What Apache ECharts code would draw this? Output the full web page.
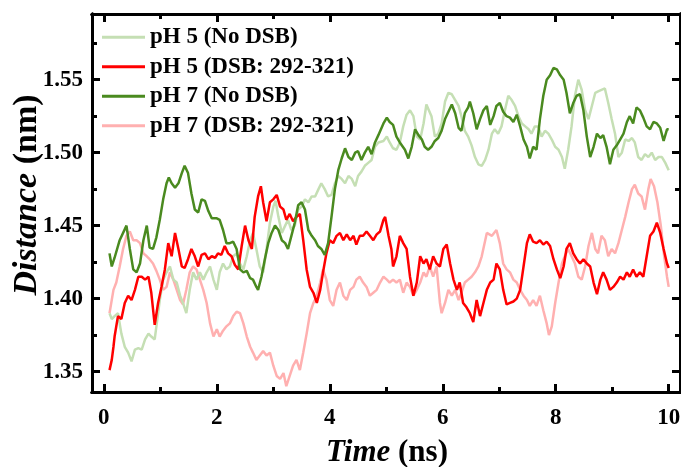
<!DOCTYPE html>
<html>
<head>
<meta charset="utf-8">
<script src="https://cdn.jsdelivr.net/npm/echarts@6/dist/echarts.min.js"></script>
<style>
  html, body { margin: 0; padding: 0; background: #fff; }
  #wrap { position: relative; width: 681px; height: 467px; }
  #chart, #ticks { position: absolute; left: 0; top: 0; width: 681px; height: 467px; }
  #ticks { pointer-events: none; }
</style>
</head>
<body>
<div id="wrap">
  <div id="chart"></div>
  <div id="ticks"></div>
</div>
<script>
// Distance vs time, [time (ns), distance (nm)]
const ph5NoDsb = [
  [0.10,1.390],[0.14,1.386],[0.19,1.388],[0.25,1.390],[0.31,1.376],[0.37,1.367],[0.43,1.363],[0.49,1.357],
  [0.55,1.365],[0.61,1.366],[0.67,1.365],[0.73,1.372],[0.79,1.376],[0.84,1.374],[0.90,1.372],[0.93,1.381],
  [0.99,1.399],[1.05,1.413],[1.11,1.418],[1.17,1.422],[1.23,1.413],[1.29,1.411],[1.35,1.402],[1.40,1.397],
  [1.46,1.390],[1.52,1.406],[1.58,1.418],[1.64,1.413],[1.70,1.418],[1.76,1.413],[1.82,1.418],[1.88,1.422],
  [1.94,1.413],[2.00,1.406],[2.05,1.418],[2.11,1.424],[2.17,1.420],[2.23,1.422],[2.29,1.429],[2.35,1.431],
  [2.41,1.424],[2.47,1.420],[2.53,1.429],[2.59,1.440],[2.64,1.445],[2.70,1.434],[2.76,1.422],[2.82,1.418],
  [2.88,1.434],[2.94,1.452],[3.00,1.463],[3.04,1.467],[3.09,1.456],[3.15,1.445],[3.21,1.450],[3.26,1.454],
  [3.32,1.447],[3.38,1.450],[3.44,1.461],[3.50,1.463],[3.56,1.468],[3.62,1.466],[3.68,1.470],[3.74,1.470],
  [3.80,1.475],[3.85,1.479],[3.91,1.475],[3.97,1.470],[4.03,1.471],[4.09,1.479],[4.15,1.484],[4.21,1.482],
  [4.27,1.479],[4.33,1.484],[4.39,1.482],[4.45,1.477],[4.50,1.484],[4.56,1.487],[4.62,1.491],[4.68,1.493],
  [4.74,1.495],[4.80,1.504],[4.86,1.507],[4.95,1.508],[5.01,1.511],[5.06,1.507],[5.12,1.503],[5.18,1.502],
  [5.24,1.507],[5.30,1.518],[5.36,1.526],[5.42,1.529],[5.48,1.525],[5.54,1.511],[5.60,1.509],[5.66,1.520],
  [5.71,1.533],[5.74,1.534],[5.80,1.525],[5.86,1.511],[5.92,1.513],[5.98,1.520],[6.04,1.535],[6.10,1.541],
  [6.16,1.540],[6.22,1.536],[6.28,1.532],[6.33,1.525],[6.39,1.515],[6.45,1.511],[6.51,1.505],[6.57,1.497],
  [6.63,1.492],[6.69,1.491],[6.75,1.495],[6.81,1.502],[6.87,1.513],[6.92,1.516],[6.98,1.513],[7.04,1.518],
  [7.10,1.529],[7.16,1.539],[7.22,1.536],[7.28,1.532],[7.34,1.525],[7.40,1.520],[7.46,1.518],[7.52,1.516],
  [7.57,1.513],[7.63,1.518],[7.69,1.518],[7.75,1.511],[7.81,1.515],[7.87,1.513],[7.93,1.509],[7.99,1.504],
  [8.05,1.502],[8.11,1.497],[8.16,1.489],[8.22,1.502],[8.28,1.518],[8.34,1.539],[8.40,1.550],[8.46,1.543],
  [8.52,1.529],[8.58,1.523],[8.64,1.532],[8.70,1.541],[8.75,1.542],[8.81,1.543],[8.87,1.544],[8.93,1.534],
  [8.99,1.523],[9.05,1.513],[9.11,1.497],[9.17,1.500],[9.23,1.509],[9.29,1.508],[9.35,1.510],[9.40,1.507],
  [9.46,1.497],[9.52,1.495],[9.58,1.499],[9.64,1.497],[9.70,1.500],[9.76,1.495],[9.82,1.497],[9.88,1.497],
  [9.94,1.493],[10.0,1.488]
];

const ph5Dsb = [
  [0.10,1.351],[0.14,1.358],[0.17,1.367],[0.19,1.374],[0.22,1.381],[0.25,1.388],[0.31,1.386],[0.37,1.397],
  [0.43,1.402],[0.49,1.399],[0.55,1.406],[0.61,1.415],[0.67,1.415],[0.73,1.413],[0.79,1.415],[0.84,1.404],
  [0.90,1.382],[0.96,1.397],[1.02,1.408],[1.08,1.420],[1.14,1.438],[1.20,1.429],[1.26,1.445],[1.32,1.434],
  [1.38,1.422],[1.43,1.421],[1.49,1.427],[1.55,1.434],[1.61,1.429],[1.67,1.422],[1.73,1.430],[1.79,1.431],
  [1.85,1.427],[1.91,1.429],[1.97,1.428],[2.02,1.431],[2.08,1.430],[2.14,1.436],[2.20,1.431],[2.26,1.429],
  [2.32,1.423],[2.38,1.420],[2.44,1.436],[2.50,1.450],[2.56,1.440],[2.62,1.434],[2.67,1.456],[2.73,1.470],
  [2.78,1.477],[2.82,1.466],[2.88,1.453],[2.94,1.466],[3.00,1.468],[3.06,1.471],[3.12,1.463],[3.18,1.461],
  [3.23,1.454],[3.29,1.458],[3.35,1.453],[3.41,1.456],[3.47,1.458],[3.53,1.440],[3.59,1.420],[3.65,1.408],
  [3.71,1.404],[3.77,1.397],[3.83,1.406],[3.88,1.418],[3.94,1.431],[4.00,1.440],[4.06,1.438],[4.12,1.443],
  [4.18,1.445],[4.24,1.440],[4.30,1.444],[4.36,1.440],[4.42,1.443],[4.47,1.437],[4.53,1.443],[4.59,1.443],
  [4.65,1.446],[4.71,1.443],[4.77,1.440],[4.83,1.444],[4.89,1.446],[4.95,1.454],[4.98,1.456],[5.04,1.443],
  [5.09,1.434],[5.12,1.422],[5.18,1.429],[5.24,1.443],[5.30,1.438],[5.36,1.434],[5.42,1.415],[5.48,1.402],
  [5.54,1.411],[5.60,1.429],[5.66,1.424],[5.71,1.427],[5.77,1.420],[5.83,1.429],[5.89,1.424],[5.95,1.422],
  [6.01,1.434],[6.07,1.437],[6.13,1.424],[6.19,1.413],[6.25,1.406],[6.30,1.411],[6.36,1.397],[6.42,1.394],
  [6.48,1.390],[6.54,1.384],[6.60,1.399],[6.66,1.388],[6.72,1.397],[6.78,1.406],[6.84,1.411],[6.90,1.413],
  [6.95,1.424],[7.01,1.420],[7.07,1.406],[7.13,1.396],[7.19,1.397],[7.25,1.398],[7.31,1.400],[7.37,1.406],
  [7.43,1.422],[7.49,1.438],[7.54,1.444],[7.60,1.439],[7.66,1.438],[7.72,1.440],[7.78,1.437],[7.84,1.439],
  [7.90,1.436],[7.96,1.427],[8.02,1.420],[8.08,1.414],[8.14,1.422],[8.19,1.434],[8.25,1.438],[8.31,1.431],
  [8.37,1.427],[8.43,1.424],[8.49,1.427],[8.55,1.424],[8.61,1.422],[8.67,1.411],[8.73,1.403],[8.79,1.413],
  [8.84,1.418],[8.90,1.413],[8.96,1.406],[9.02,1.408],[9.08,1.411],[9.14,1.415],[9.20,1.413],[9.26,1.418],
  [9.31,1.415],[9.37,1.420],[9.43,1.415],[9.49,1.418],[9.55,1.415],[9.61,1.429],[9.67,1.443],[9.73,1.446],
  [9.79,1.452],[9.85,1.445],[9.91,1.434],[9.97,1.424],[10.0,1.421]
];

const ph7NoDsb = [
  [0.10,1.431],[0.14,1.422],[0.19,1.428],[0.28,1.440],[0.40,1.450],[0.46,1.434],[0.52,1.420],[0.58,1.418],
  [0.64,1.424],[0.70,1.440],[0.76,1.450],[0.81,1.435],[0.87,1.434],[0.93,1.442],[0.99,1.454],[1.05,1.468],
  [1.11,1.479],[1.15,1.483],[1.20,1.479],[1.26,1.476],[1.32,1.479],[1.38,1.486],[1.43,1.491],[1.49,1.486],
  [1.55,1.472],[1.61,1.461],[1.67,1.459],[1.73,1.468],[1.79,1.467],[1.85,1.460],[1.91,1.455],[2.00,1.455],
  [2.05,1.454],[2.11,1.447],[2.17,1.438],[2.23,1.438],[2.29,1.439],[2.35,1.434],[2.41,1.420],[2.47,1.418],
  [2.53,1.419],[2.59,1.414],[2.64,1.413],[2.70,1.408],[2.73,1.406],[2.79,1.415],[2.85,1.427],[2.91,1.438],
  [2.97,1.445],[3.03,1.450],[3.09,1.447],[3.15,1.440],[3.21,1.438],[3.26,1.434],[3.32,1.443],[3.38,1.452],
  [3.44,1.464],[3.50,1.466],[3.56,1.461],[3.62,1.447],[3.68,1.443],[3.74,1.440],[3.79,1.436],[3.85,1.434],
  [3.91,1.430],[3.97,1.438],[4.03,1.456],[4.09,1.475],[4.15,1.488],[4.21,1.496],[4.27,1.503],[4.33,1.497],
  [4.39,1.495],[4.45,1.500],[4.50,1.501],[4.56,1.495],[4.62,1.500],[4.68,1.504],[4.74,1.499],[4.80,1.507],
  [4.86,1.512],[4.95,1.520],[5.01,1.524],[5.06,1.521],[5.12,1.519],[5.18,1.511],[5.24,1.507],[5.33,1.502],
  [5.39,1.496],[5.45,1.504],[5.51,1.516],[5.57,1.512],[5.63,1.509],[5.68,1.504],[5.74,1.502],[5.80,1.504],
  [5.86,1.508],[5.92,1.510],[5.98,1.515],[6.04,1.523],[6.10,1.528],[6.16,1.533],[6.22,1.527],[6.28,1.517],
  [6.33,1.515],[6.39,1.527],[6.45,1.531],[6.48,1.535],[6.54,1.527],[6.60,1.516],[6.66,1.523],[6.72,1.529],
  [6.78,1.532],[6.84,1.519],[6.90,1.525],[6.95,1.532],[7.01,1.534],[7.07,1.528],[7.13,1.525],[7.19,1.524],
  [7.25,1.521],[7.31,1.526],[7.37,1.518],[7.43,1.509],[7.49,1.504],[7.54,1.496],[7.60,1.504],[7.66,1.502],
  [7.72,1.523],[7.78,1.539],[7.84,1.550],[7.90,1.553],[7.96,1.558],[8.02,1.557],[8.08,1.553],[8.14,1.550],
  [8.19,1.541],[8.25,1.527],[8.31,1.534],[8.37,1.539],[8.43,1.540],[8.49,1.529],[8.55,1.511],[8.61,1.497],
  [8.67,1.504],[8.73,1.513],[8.79,1.510],[8.84,1.512],[8.90,1.504],[8.96,1.492],[9.02,1.502],[9.08,1.505],
  [9.14,1.509],[9.20,1.513],[9.26,1.521],[9.31,1.525],[9.37,1.520],[9.43,1.531],[9.49,1.529],[9.55,1.524],
  [9.61,1.518],[9.67,1.516],[9.73,1.521],[9.79,1.520],[9.85,1.517],[9.91,1.508],[9.97,1.516],[10.0,1.516]
];

const ph7Dsb = [
  [0.10,1.390],[0.17,1.406],[0.22,1.411],[0.28,1.422],[0.34,1.434],[0.40,1.443],[0.46,1.446],[0.52,1.440],
  [0.58,1.440],[0.64,1.438],[0.70,1.431],[0.76,1.429],[0.81,1.427],[0.87,1.424],[0.93,1.419],[0.99,1.413],
  [1.05,1.406],[1.11,1.408],[1.17,1.418],[1.23,1.413],[1.29,1.406],[1.35,1.399],[1.40,1.396],[1.46,1.406],
  [1.52,1.418],[1.58,1.422],[1.64,1.420],[1.70,1.413],[1.76,1.406],[1.82,1.397],[1.88,1.383],[1.94,1.374],
  [2.00,1.379],[2.05,1.374],[2.11,1.378],[2.17,1.381],[2.23,1.383],[2.29,1.388],[2.35,1.391],[2.41,1.390],
  [2.47,1.383],[2.53,1.374],[2.59,1.367],[2.64,1.363],[2.70,1.358],[2.76,1.361],[2.82,1.364],[2.88,1.361],
  [2.94,1.363],[3.00,1.354],[3.06,1.347],[3.12,1.345],[3.18,1.349],[3.23,1.340],[3.29,1.347],[3.35,1.354],
  [3.41,1.358],[3.47,1.351],[3.53,1.363],[3.59,1.376],[3.65,1.390],[3.71,1.397],[3.77,1.402],[3.83,1.411],
  [3.88,1.420],[3.94,1.413],[4.00,1.399],[4.06,1.395],[4.12,1.406],[4.18,1.411],[4.24,1.402],[4.30,1.399],
  [4.36,1.406],[4.42,1.408],[4.47,1.413],[4.53,1.415],[4.59,1.411],[4.65,1.408],[4.71,1.402],[4.77,1.404],
  [4.83,1.406],[4.89,1.411],[4.95,1.415],[5.01,1.413],[5.06,1.411],[5.12,1.413],[5.18,1.411],[5.24,1.413],
  [5.30,1.404],[5.36,1.411],[5.42,1.408],[5.48,1.402],[5.54,1.406],[5.60,1.411],[5.66,1.418],[5.71,1.415],
  [5.77,1.422],[5.83,1.415],[5.89,1.422],[5.95,1.397],[5.98,1.390],[6.04,1.397],[6.10,1.406],[6.16,1.402],
  [6.22,1.406],[6.28,1.399],[6.33,1.404],[6.39,1.411],[6.45,1.413],[6.51,1.415],[6.57,1.418],[6.63,1.422],
  [6.69,1.429],[6.78,1.445],[6.87,1.443],[6.95,1.447],[7.01,1.438],[7.07,1.424],[7.13,1.420],[7.19,1.418],
  [7.25,1.413],[7.31,1.411],[7.37,1.406],[7.43,1.402],[7.49,1.399],[7.54,1.395],[7.60,1.399],[7.66,1.395],
  [7.72,1.402],[7.78,1.392],[7.84,1.383],[7.88,1.375],[7.93,1.381],[7.99,1.397],[8.05,1.411],[8.11,1.424],
  [8.16,1.429],[8.22,1.434],[8.28,1.429],[8.34,1.424],[8.40,1.415],[8.46,1.413],[8.52,1.422],[8.58,1.436],
  [8.64,1.445],[8.70,1.434],[8.75,1.431],[8.81,1.443],[8.87,1.440],[8.93,1.429],[8.99,1.434],[9.05,1.431],
  [9.11,1.438],[9.17,1.447],[9.23,1.456],[9.29,1.466],[9.35,1.475],[9.40,1.478],[9.46,1.472],[9.52,1.470],
  [9.58,1.461],[9.64,1.475],[9.68,1.482],[9.74,1.477],[9.80,1.466],[9.86,1.450],[9.92,1.429],[9.97,1.415],
  [10.0,1.408]
];

// Axis ranges and tick positions
const xRange = [-0.21, 10.2];
const yRange = [1.336, 1.595];
const xMajorTicks = [0, 2, 4, 6, 8, 10];
const xMinorTicks = [1, 3, 5, 7, 9];
const yMajorTicks = [1.35, 1.40, 1.45, 1.50, 1.55];
const yMinorTicks = [1.375, 1.425, 1.475, 1.525, 1.575];

const seriesNames = ['pH 5 (No DSB)', 'pH 5 (DSB: 292-321)', 'pH 7 (No DSB)', 'pH 7 (DSB: 292-321)'];
const seriesColors = ['#c5dfb4', '#ff0000', '#4a8a1f', '#ffb0b0'];
const seriesData = [ph5NoDsb, ph5Dsb, ph7NoDsb, ph7Dsb];
const drawOrder = [3, 0, 1, 2];

const FONT = '"Liberation Serif", "Times New Roman", serif';
const GRID = { left: 92, right: 1, top: 14, bottom: 75, outerBoundsMode: 'none' };

// Axis titles: italic quantity followed by the upright unit
const xTitle = ['Time', '(ns)'];
const yTitle = ['Distance', '(nm)'];
const X_TITLE_SIZE = 31;
const Y_TITLE_SIZE = 34;

const measureCtx = document.createElement('canvas').getContext('2d');
function textWidth(text, size, italic) {
  measureCtx.font = (italic ? 'italic ' : '') + 'bold ' + size + 'px ' + FONT;
  return measureCtx.measureText(text).width;
}

function titleGroup(parts, size, cx, cy, vertical) {
  const w0 = textWidth(parts[0], size, true);
  const gap = textWidth(' ', size, false);
  const w1 = textWidth(parts[1], size, false);
  const total = w0 + gap + w1;
  const base = { fontFamily: FONT, fontWeight: 'bold', fontSize: size, fill: '#000', align: 'left', verticalAlign: 'middle' };
  return {
    type: 'group',
    x: vertical ? cx : cx - total / 2,
    y: vertical ? cy + total / 2 : cy,
    rotation: vertical ? Math.PI / 2 : 0,
    silent: true,
    children: [
      { type: 'text', x: 0, y: 0, style: Object.assign({ text: parts[0], fontStyle: 'italic' }, base) },
      { type: 'text', x: w0 + gap, y: 0, style: Object.assign({ text: parts[1], fontStyle: 'normal' }, base) }
    ]
  };
}

// Value axis spanning the frame; ticks point inward
function axisDef(kind, position, ticks, tickLen, withLabels) {
  const range = kind === 'x' ? xRange : yRange;
  return {
    type: 'value',
    position: position,
    min: range[0],
    max: range[1],
    axisLine: { show: true, onZero: false, lineStyle: { color: '#000', width: 3 } },
    axisTick: {
      show: tickLen > 0, inside: true, length: tickLen, customValues: ticks,
      lineStyle: { color: '#000', width: 3 }
    },
    axisLabel: {
      show: withLabels, customValues: ticks, color: '#000',
      fontFamily: FONT, fontWeight: 'bold', fontSize: 23,
      margin: kind === 'x' ? 15 : 9,
      formatter: kind === 'x' ? (v) => String(v) : (v) => v.toFixed(2)
    },
    splitLine: { show: false },
    minorTick: { show: false }
  };
}

// Data layer: curves, legend, tick labels and titles
const chart = echarts.init(document.getElementById('chart'), null, { renderer: 'canvas' });
chart.setOption({
  animation: false,
  backgroundColor: '#fff',
  grid: GRID,
  legend: {
    data: seriesNames,
    orient: 'vertical',
    left: 102,
    top: 25,
    padding: 0,
    itemWidth: 43,
    itemHeight: 3,
    itemGap: 5,
    icon: 'rect',
    selectedMode: false,
    textStyle: { fontFamily: FONT, fontWeight: 'bold', fontSize: 23, color: '#000', lineHeight: 24.5 }
  },
  xAxis: [
    axisDef('x', 'bottom', xMajorTicks, 0, true),
    axisDef('x', 'top', xMajorTicks, 0, false)
  ],
  yAxis: [
    axisDef('y', 'left', yMajorTicks, 0, true),
    axisDef('y', 'right', yMajorTicks, 0, false)
  ],
  graphic: [
    titleGroup(xTitle, X_TITLE_SIZE, 387, 453, false),
    titleGroup(yTitle, Y_TITLE_SIZE, 27, 195, true)
  ],
  series: drawOrder.map((i) => ({
    name: seriesNames[i],
    type: 'line',
    data: seriesData[i],
    showSymbol: false,
    symbol: 'none',
    smooth: false,
    lineStyle: { color: seriesColors[i], width: 2.5 },
    itemStyle: { color: seriesColors[i] },
    emphasis: { disabled: true }
  }))
});

// Frame layer: the same grid and axes, carrying the inward major and minor ticks
const frame = echarts.init(document.getElementById('ticks'), null, { renderer: 'canvas' });
frame.setOption({
  animation: false,
  backgroundColor: 'transparent',
  grid: GRID,
  xAxis: [
    axisDef('x', 'bottom', xMajorTicks, 8, false),
    axisDef('x', 'bottom', xMinorTicks, 5, false),
    axisDef('x', 'top', xMajorTicks, 8, false),
    axisDef('x', 'top', xMinorTicks, 5, false)
  ],
  yAxis: [
    axisDef('y', 'left', yMajorTicks, 8, false),
    axisDef('y', 'left', yMinorTicks, 5, false),
    axisDef('y', 'right', yMajorTicks, 8, false),
    axisDef('y', 'right', yMinorTicks, 5, false)
  ],
  series: []
});
</script>
</body>
</html>
